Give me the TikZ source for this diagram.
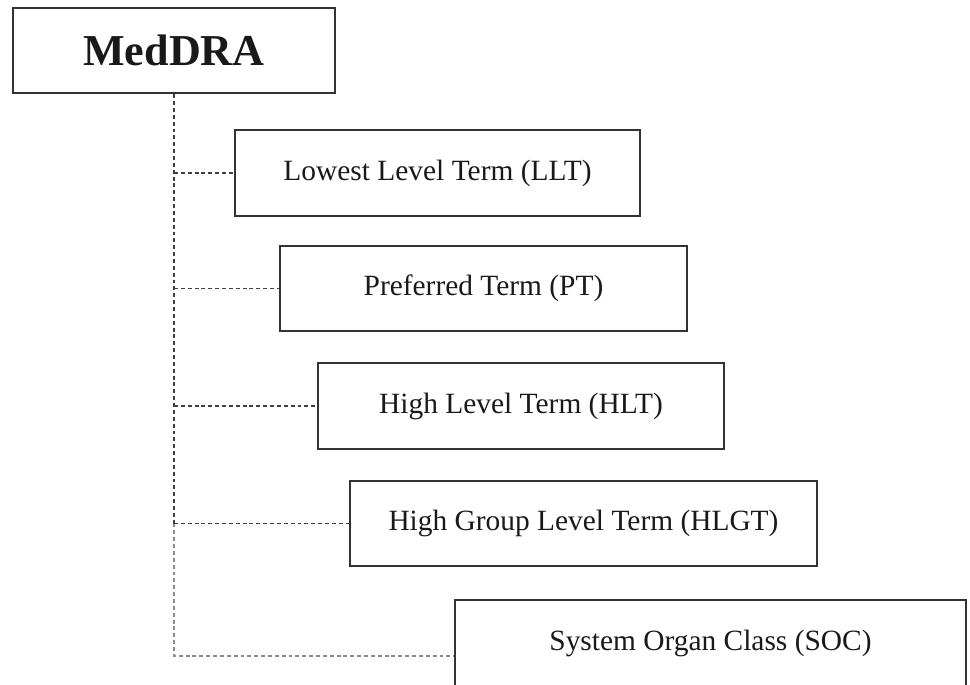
\documentclass[tikz,border=0pt]{standalone}
\usepackage{fontspec}
\setmainfont{Liberation Serif}
\usepackage{tikz}
\usetikzlibrary{positioning, calc}

\begin{document}
\begin{tikzpicture}[x=0.408pt, y=-0.408pt]
	% Define styles
	\tikzset{
		term/.style={rectangle, draw=black!80, line width=1pt, text=black!90, font=\fontsize{12}{14}\selectfont, inner sep=0pt},
		top/.style={term, font=\fontsize{18}{20}\selectfont\bfseries},
		link/.style={draw=black!75, line width=0.5pt, dash pattern=on 1.6pt off 1.2pt},
		faint/.style={link, draw=black!45}
	}
	\useasboundingbox (0,0) rectangle (970,685);
	
	% Nodes
	\node[top, minimum width=131.4pt, minimum height=34.7pt] (meddra) at (174,50.5) {MedDRA};
	\node[term, minimum width=165.2pt, minimum height=35.1pt] (llt) at (437.5,173) {Lowest Level Term (LLT)};
	\node[term, minimum width=166.1pt, minimum height=34.7pt] (pt) at (483.5,288.5) {Preferred Term (PT)};
	\node[term, minimum width=165.6pt, minimum height=35.1pt] (hlt) at (521,406) {High Level Term (HLT)};
	\node[term, minimum width=190.5pt, minimum height=34.7pt] (hlgt) at (583.5,523.5) {High Group Level Term (HLGT)};
	\node[term, minimum width=208.5pt, minimum height=35.1pt] (soc) at (710.5,643) {System Organ Class (SOC)};
	
	% Links
	\coordinate (socin) at ($(soc.west)+(0,13)$);
	\path [link] (meddra.south) -- (meddra.south |- hlgt.west);
	\path [faint] (meddra.south |- hlgt.west) |- (socin);
	
	\path [link] (meddra.south |- llt.west) -- (llt.west);
	\path [link] (meddra.south |- pt.west) -- (pt.west);
	\path [link] (meddra.south |- hlt.west) -- (hlt.west);
	\path [link] (meddra.south |- hlgt.west) -- (hlgt.west);
\end{tikzpicture}
\end{document}
